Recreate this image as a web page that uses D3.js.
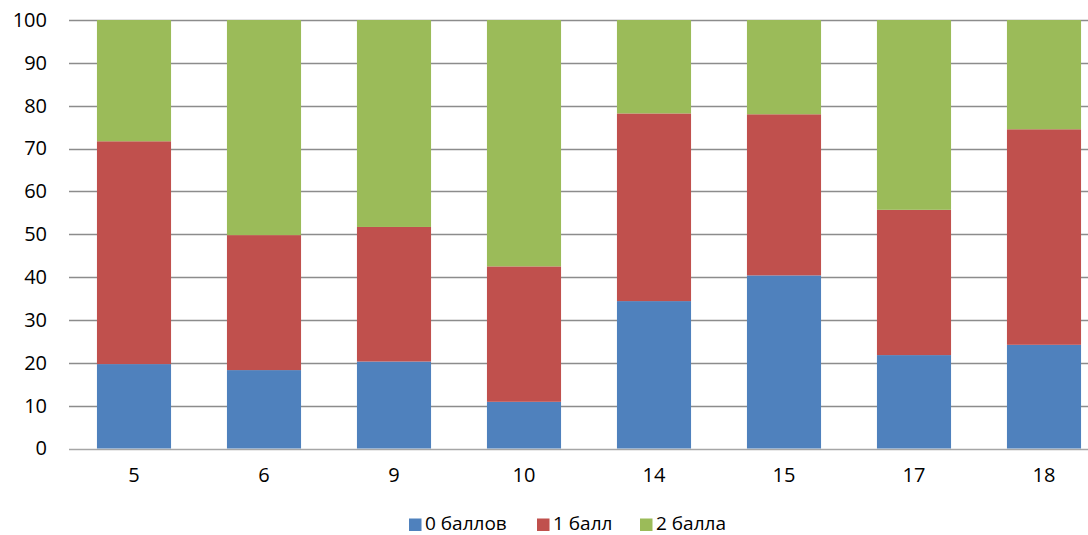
<!DOCTYPE html>
<html>
<head>
<meta charset="utf-8">
<script src="https://cdn.jsdelivr.net/npm/d3@7"></script>
<style>
  html, body { margin: 0; padding: 0; background: #fff; }
  svg { display: block; font-family: "Open Sans", "Liberation Sans", sans-serif; }
</style>
</head>
<body>
<svg id="chart" width="1088" height="535"></svg>
<script>
// Task numbers along the x axis
const categories = ["5", "6", "9", "10", "14", "15", "17", "18"];
// Share of students (%) per score
const zeroPoints = [19.7, 18.3, 20.3, 10.9, 34.4, 40.4, 21.8, 24.2];
const onePoint   = [52.0, 31.5, 31.4, 31.6, 43.8, 37.6, 33.9, 50.3];
const twoPoints  = [28.3, 50.2, 48.3, 57.5, 21.8, 22.0, 44.3, 25.5];
const seriesNames = ["0 баллов", "1 балл", "2 балла"];
const yTicks = [0, 10, 20, 30, 40, 50, 60, 70, 80, 90, 100];

const colors = ["#4F81BD", "#C0504D", "#9BBB59"];

const rows = categories.map((c, i) => ({
  cat: c, s0: zeroPoints[i], s1: onePoint[i], s2: twoPoints[i]
}));
const stacked = d3.stack().keys(["s0", "s1", "s2"])(rows);

const svg = d3.select("#chart");
const plotLeft = 69, plotTop = 20, plotBottom = 448.5;

const x = d3.scaleBand().domain(categories).range([plotLeft, plotLeft + 1040]).paddingInner(0.43).paddingOuter(0.215);
const y = d3.scaleLinear().domain([0, 100]).range([plotBottom, plotTop]);

// Horizontal gridlines
svg.append("g").selectAll("line").data(yTicks).join("line")
  .attr("x1", plotLeft).attr("x2", 1088)
  .attr("y1", d => Math.round(y(d)) + 0.5).attr("y2", d => Math.round(y(d)) + 0.5)
  .attr("stroke", d => d === 0 ? "#a6a6a6" : "#8c8c8c").attr("stroke-width", 1.3);

// Stacked bars
svg.append("g").selectAll("g").data(stacked).join("g")
  .attr("fill", (d, i) => colors[i])
  .selectAll("rect").data(d => d).join("rect")
  .attr("x", d => x(d.data.cat))
  .attr("width", x.bandwidth())
  .attr("y", d => y(d[1]))
  .attr("height", d => y(d[0]) - y(d[1]));

// Y axis labels
const yAxis = svg.append("g").attr("transform", `translate(${plotLeft},0)`)
  .call(d3.axisLeft(y).tickValues(yTicks).tickSize(0).tickPadding(22));
yAxis.select(".domain").remove();
yAxis.selectAll("text").attr("font-size", 20).attr("fill", "#000")
  .attr("font-family", "'Open Sans', 'Liberation Sans', sans-serif");

// X axis labels
const xAxis = svg.append("g").attr("transform", `translate(0,${plotBottom})`)
  .call(d3.axisBottom(x).tickSize(0).tickPadding(19));
xAxis.select(".domain").remove();
xAxis.selectAll("text").attr("font-size", 20).attr("fill", "#000")
  .attr("font-family", "'Open Sans', 'Liberation Sans', sans-serif");

// Legend
const legendX = [409, 537, 640];
const legend = svg.append("g").selectAll("g").data(seriesNames).join("g")
  .attr("transform", (d, i) => `translate(${legendX[i]},517)`);
legend.append("rect").attr("y", 1.5).attr("width", 12.5).attr("height", 12.5).attr("fill", (d, i) => colors[i]);
legend.append("text").attr("x", 16).attr("y", 13).attr("font-size", 19).attr("fill", "#000")
  .text(d => d);
</script>
</body>
</html>
